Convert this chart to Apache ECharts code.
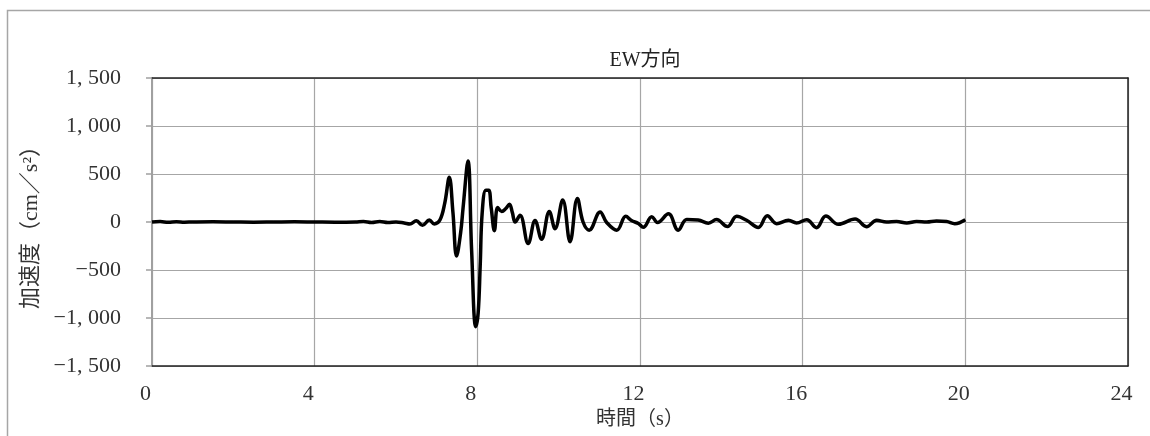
<!DOCTYPE html>
<html>
<head>
<meta charset="utf-8">
<script src="https://cdn.jsdelivr.net/npm/echarts@6/dist/echarts.min.js"></script>
<style>
html,body{margin:0;padding:0;background:#fff;}
#c{width:1150px;height:436px;}
</style>
</head>
<body>
<div id="c"></div>
<script>
var titleText = 'EW方向';
var xName = '時間（s）';
var yName = '加速度（cm／s²）';
var xTicks = [0, 4, 8, 12, 16, 20, 24];
var yTicks = [-1500, -1000, -500, 0, 500, 1000, 1500];

var timeSec = [0, 0.2, 0.4, 0.6, 0.8, 1.0, 1.5, 2.0, 2.5, 3.0, 3.5, 4.0, 4.5, 5.0, 5.2, 5.4, 5.6, 5.8, 6.0, 6.2, 6.34, 6.5, 6.65, 6.82, 6.94, 7.08, 7.2, 7.31, 7.4, 7.49, 7.59, 7.65, 7.77, 7.86, 7.96, 8.02, 8.07, 8.12, 8.21, 8.28, 8.34, 8.42, 8.5, 8.6, 8.7, 8.79, 8.86, 8.93, 9.05, 9.25, 9.42, 9.58, 9.77, 9.91, 10.1, 10.28, 10.46, 10.6, 10.75, 11.02, 11.18, 11.43, 11.65, 11.79, 11.96, 12.08, 12.29, 12.43, 12.7, 12.94, 13.15, 13.43, 13.68, 13.88, 14.15, 14.38, 14.62, 14.91, 15.13, 15.36, 15.65, 15.85, 16.1, 16.34, 16.57, 16.88, 17.29, 17.57, 17.82, 18.06, 18.31, 18.56, 18.8, 19.05, 19.29, 19.54, 19.74, 20.0];
var accel = [0, 5, -3, 3, -2, 0, 2, 0, -2, 0, 2, 0, -2, 0, 5, -5, 5, -5, 0, -10, -20, 12, -35, 20, -20, 20, 200, 465, 100, -355, -110, 150, 635, -300, -1090, -950, -460, 100, 330, 330, 150, -90, 150, 110, 140, 185, 100, 0, 70, -225, 15, -180, 110, -70, 230, -205, 245, 0, -85, 105, -5, -85, 60, 15, -15, -55, 55, -5, 85, -85, 25, 20, -12, 25, -48, 60, 18, -56, 66, -17, 17, -10, 24, -59, 62, -24, 31, -49, 17, 0, 5, -10, 5, 0, 10, 5, -17, 24];

var seriesData = timeSec.map(function (t, i) { return [t, accel[i]]; });

function fmtY(v) {
  var s = Math.abs(v) >= 1000 ? (v < 0 ? '-' : '') + Math.floor(Math.abs(v) / 1000) + ', ' + String(Math.abs(v) % 1000).padStart(3, '0') : String(v);
  return s.replace('-', '−');
}

var FONT = '"Liberation Serif", "Noto Sans CJK JP", serif';
var chart = echarts.init(document.getElementById('c'));
chart.setOption({
  animation: false,
  backgroundColor: '#fff',
  title: {
    text: titleText,
    left: 640, top: 46, textAlign: 'center',
    textStyle: { fontFamily: FONT, fontSize: 20, fontWeight: 'normal', color: '#222' }
  },
  graphic: [{
    type: 'rect', silent: true, z: -10,
    shape: { x: 7.5, y: 10.5, width: 1300, height: 600 },
    style: { fill: 'none', stroke: '#a6a6a6', lineWidth: 1.5 }
  }],
  grid: { left: 152, top: 78, right: 22, bottom: 70, outerBoundsMode: 'none' },
  xAxis: [{
    type: 'value', min: xTicks[0], max: xTicks[xTicks.length - 1], interval: 4,
    name: xName, nameLocation: 'middle', nameGap: 44,
    nameTextStyle: { fontFamily: FONT, fontSize: 20, color: '#333' },
    axisLine: { show: true, onZero: false, lineStyle: { color: '#222', width: 1.5 } },
    axisTick: { show: false },
    axisLabel: { fontFamily: FONT, fontSize: 22, color: '#333', margin: 17, padding: [0, 13, 0, 0] },
    splitLine: { show: true, lineStyle: { color: '#a6a6a6', width: 1.2 } }
  }, {
    type: 'value', position: 'top', min: 0, max: 24,
    axisLine: { show: true, onZero: false, lineStyle: { color: '#222', width: 1.5 } },
    axisTick: { show: false }, axisLabel: { show: false }, splitLine: { show: false }
  }],
  yAxis: [{
    type: 'value', min: yTicks[0], max: yTicks[yTicks.length - 1], interval: 500,
    name: yName, nameLocation: 'middle', nameGap: 110, nameRotate: 90,
    nameTextStyle: { fontFamily: FONT, fontSize: 22, color: '#333' },
    axisLine: { show: true, onZero: false, lineStyle: { color: '#a0a0a0', width: 2 } },
    axisTick: { show: true, inside: false, length: 6, lineStyle: { color: '#a0a0a0', width: 1.5 } },
    axisLabel: { fontFamily: FONT, fontSize: 22, color: '#333', margin: 31, formatter: fmtY },
    splitLine: { show: true, lineStyle: { color: '#a6a6a6', width: 1.2 } }
  }, {
    type: 'value', position: 'right', min: -1500, max: 1500,
    axisLine: { show: true, onZero: false, lineStyle: { color: '#222', width: 1.5 } },
    axisTick: { show: false }, axisLabel: { show: false }, splitLine: { show: false }
  }],
  series: [{
    type: 'line', data: seriesData, showSymbol: false, smooth: 0.4,
    lineStyle: { color: '#000', width: 3.5 }, z: 5
  }]
});
</script>
</body>
</html>
